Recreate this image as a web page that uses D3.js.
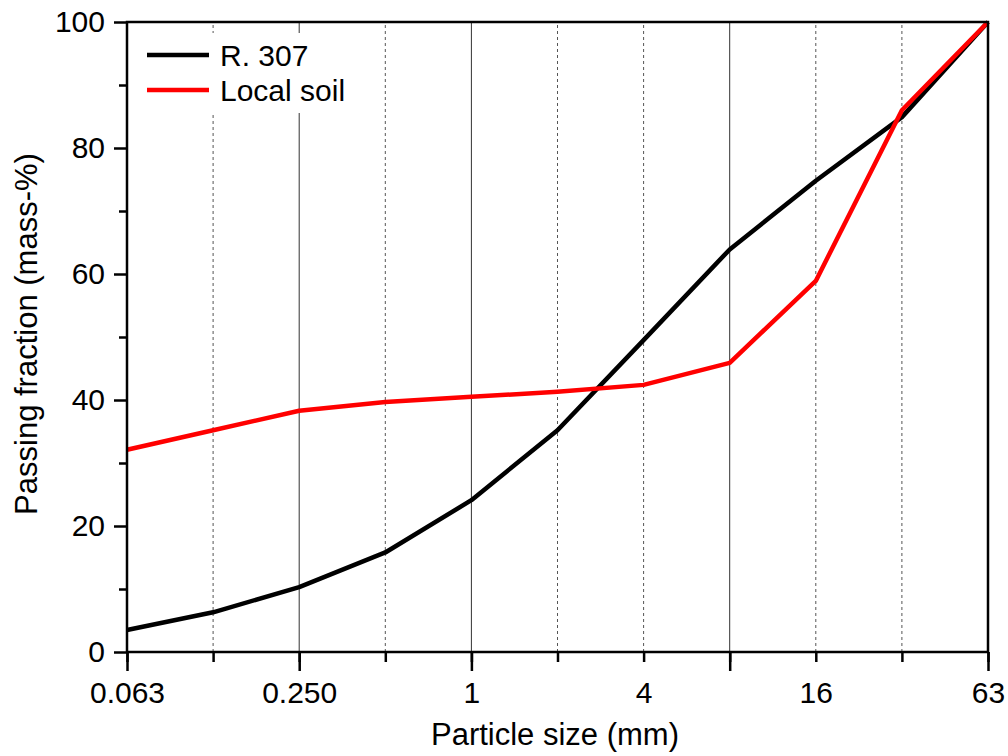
<!DOCTYPE html>
<html>
<head>
<meta charset="utf-8">
<script src="https://cdn.jsdelivr.net/npm/d3@7"></script>
<style>
  body { margin: 0; background: #fff; }
  svg { font-family: "Liberation Sans", Arial, sans-serif; }
</style>
</head>
<body>
<svg id="chart"></svg>
<script>
// sieve sizes (mm) and passing fractions (mass-%)
const sizes = [0.063, 0.125, 0.25, 0.5, 1, 2, 4, 8, 16, 31.5, 63];
const sizeLabels = ["0.063", "", "0.250", "", "1", "", "4", "", "16", "", "63"];
const r307 = [3.5, 6.3, 10.3, 15.8, 24.1, 35.2, 49.5, 63.9, 74.8, 84.9, 100];
const localSoil = [32.1, 35.2, 38.3, 39.7, 40.5, 41.3, 42.4, 45.9, 58.9, 86.0, 100];
const yMajor = [0, 20, 40, 60, 80, 100];
const yMinor = [10, 30, 50, 70, 90];

const width = 1008;
const height = 756;
const margin = { top: 22, right: 20, bottom: 104, left: 127 };

const svg = d3.select("#chart")
    .attr("width", width)
    .attr("height", height);

// sizes are spaced evenly (each sieve doubles)
const x = d3.scalePoint()
    .domain(sizes)
    .range([margin.left, width - margin.right]);

const y = d3.scaleLinear()
    .domain([0, 100])
    .range([height - margin.bottom, margin.top]);

const majorX = [0.063, 0.25, 1, 8, 63];
const solidGrid = [0.25, 1, 8];

// vertical grid lines
svg.append("g")
    .selectAll("line")
    .data(sizes.slice(1, -1))
    .enter()
    .append("line")
    .attr("x1", d => x(d))
    .attr("x2", d => x(d))
    .attr("y1", y(0))
    .attr("y2", y(100))
    .attr("stroke", d => solidGrid.includes(d) ? "#333" : "#555")
    .attr("stroke-width", 1)
    .attr("stroke-dasharray", d => solidGrid.includes(d) ? null : "3,3");

// legend background covers the grid
svg.append("rect")
    .attr("x", 129)
    .attr("y", 33)
    .attr("width", 232)
    .attr("height", 80)
    .attr("fill", "#fff");

// curves
const line = d3.line()
    .x((d, i) => x(sizes[i]))
    .y(d => y(d));

const series = [
    { name: "R. 307", values: r307, color: "#000" },
    { name: "Local soil", values: localSoil, color: "#f00" }
];

series.forEach(s => {
    svg.append("path")
        .datum(s.values)
        .attr("d", line)
        .attr("fill", "none")
        .attr("stroke", s.color)
        .attr("stroke-width", 4.5)
        .attr("stroke-linejoin", "round");
});

// frame
svg.append("rect")
    .attr("x", margin.left)
    .attr("y", margin.top)
    .attr("width", width - margin.left - margin.right)
    .attr("height", height - margin.top - margin.bottom)
    .attr("fill", "none")
    .attr("stroke", "#000")
    .attr("stroke-width", 2.5);

// x axis: minor ticks with labels, then long major ticks
const xAxisG = svg.append("g")
    .attr("transform", `translate(0,${y(0)})`);

xAxisG.append("g")
    .call(d3.axisBottom(x)
        .tickValues(sizes)
        .tickSize(10)
        .tickPadding(20)
        .tickFormat((d, i) => sizeLabels[i]))
    .call(g => g.select(".domain").remove());

xAxisG.append("g")
    .call(d3.axisBottom(x)
        .tickValues(majorX)
        .tickSize(19)
        .tickFormat(""))
    .call(g => g.select(".domain").remove());

// y axis
const yAxisG = svg.append("g")
    .attr("transform", `translate(${margin.left},0)`);

yAxisG.append("g")
    .call(d3.axisLeft(y)
        .tickValues(yMajor)
        .tickSize(13)
        .tickPadding(9))
    .call(g => g.select(".domain").remove());

yAxisG.append("g")
    .call(d3.axisLeft(y)
        .tickValues(yMinor)
        .tickSize(8)
        .tickFormat(""))
    .call(g => g.select(".domain").remove());

svg.selectAll(".tick line")
    .attr("stroke", "#000")
    .attr("stroke-width", 2.5);

svg.selectAll(".tick text")
    .attr("font-family", "Liberation Sans, Arial, sans-serif")
    .attr("font-size", 30)
    .attr("fill", "#000");

// axis titles
svg.append("text")
    .attr("x", 555)
    .attr("y", 745)
    .attr("text-anchor", "middle")
    .attr("font-size", 31)
    .text("Particle size (mm)");

svg.append("text")
    .attr("transform", "translate(37,334) rotate(-90)")
    .attr("text-anchor", "middle")
    .attr("font-size", 31)
    .text("Passing fraction (mass-%)");

// legend
const legend = svg.append("g");
series.forEach((s, i) => {
    const ly = 55 + i * 35;
    legend.append("line")
        .attr("x1", 147)
        .attr("x2", 209)
        .attr("y1", ly)
        .attr("y2", ly)
        .attr("stroke", s.color)
        .attr("stroke-width", 4.5);
    legend.append("text")
        .attr("x", 220)
        .attr("y", ly + 11)
        .attr("font-size", 30)
        .text(s.name);
});
</script>
</body>
</html>
